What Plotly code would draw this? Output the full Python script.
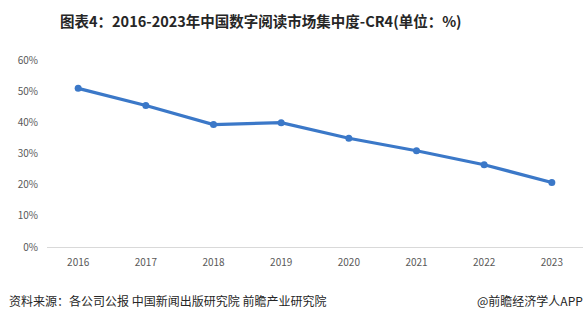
import plotly.graph_objects as go

years = ["2016", "2017", "2018", "2019", "2020", "2021", "2022", "2023"]
cr4 = [50.9, 45.4, 39.3, 39.9, 34.9, 30.9, 26.4, 20.7]
y_ticks = [0, 10, 20, 30, 40, 50, 60]
y_labels = [f"{v}%" for v in y_ticks]

title = "图表4：2016-2023年中国数字阅读市场集中度-CR4(单位：%)"
source = "资料来源：各公司公报 中国新闻出版研究院 前瞻产业研究院"
credit = "@前瞻经济学人APP"

W, H = 588, 319
fig = go.Figure()
fig.add_trace(go.Scatter(
    x=years, y=cr4, mode="lines+markers",
    line=dict(color="#3b78c8", width=3.2),
    marker=dict(color="#3b78c8", size=7),
    hoverinfo="skip", showlegend=False,
))

cjk = "Noto Sans CJK SC"
fig.update_layout(
    width=W, height=H,
    margin=dict(l=47, r=5, t=60, b=72),
    paper_bgcolor="white", plot_bgcolor="white",
    font=dict(family=cjk, color="#595959", size=10),
    xaxis=dict(
        type="category", showgrid=False, zeroline=False,
        showline=True, linecolor="#d9d9d9", linewidth=1,
        ticks="", tickfont=dict(size=10, color="#595959"),
        ticklabelstandoff=6,
    ),
    yaxis=dict(
        range=[0, 60], tickvals=y_ticks, ticktext=y_labels,
        showgrid=False, zeroline=False, showline=False,
        tickfont=dict(size=10, color="#595959"),
        ticklabelstandoff=8,
    ),
    annotations=[
        dict(text=f"<b>{title}</b>", x=261, y=H - 20, xref="paper", yref="paper",
             showarrow=False, font=dict(size=14.5, color="#262626", family=cjk),
             xanchor="center", yanchor="middle"),
        dict(text=source, x=7, y=H - 300, showarrow=False,
             font=dict(size=12, color="#262626", family=cjk),
             xanchor="left", yanchor="middle"),
        dict(text=credit, x=585, y=H - 300, showarrow=False,
             font=dict(size=12, color="#262626", family=cjk),
             xanchor="right", yanchor="middle"),
    ],
)
# convert pixel annotation positions to paper coords
pw = W - 47 - 5
ph = H - 60 - 72
for a in fig.layout.annotations:
    a.xref = "paper"; a.yref = "paper"
    a.x = (a.x - 47) / pw
    a.y = (a.y - 72) / ph

fig.write_html("out.html")
